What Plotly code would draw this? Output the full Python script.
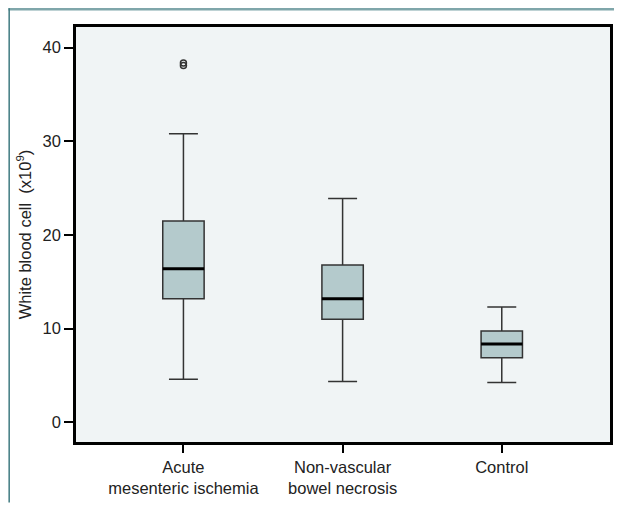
import plotly.graph_objects as go

categories = ["Acute<br>mesenteric ischemia", "Non-vascular<br>bowel necrosis", "Control"]
q1 = [13.2, 11.0, 6.9]
median = [16.4, 13.2, 8.35]
q3 = [21.5, 16.8, 9.75]
lower = [4.6, 4.35, 4.25]
upper = [30.8, 23.9, 12.3]
outlier_cat = [0, 0]
outlier_val = [38.1, 38.35]
yticks = [0, 10, 20, 30, 40]

xpos = list(range(len(categories)))
box_w = 0.26

fig = go.Figure()
fig.add_trace(go.Box(
    x=xpos, q1=q1, median=median, q3=q3, lowerfence=lower, upperfence=upper,
    width=box_w, whiskerwidth=0.7,
    fillcolor="#b4cacc", line=dict(color="#333333", width=1.5),
    boxpoints=False, showlegend=False,
))
# thicker median lines
for i, m in enumerate(median):
    fig.add_trace(go.Scatter(
        x=[xpos[i] - box_w / 2, xpos[i] + box_w / 2], y=[m, m],
        mode="lines", line=dict(color="black", width=3), showlegend=False,
        hoverinfo="skip",
    ))
fig.add_trace(go.Scatter(
    x=outlier_cat, y=outlier_val, mode="markers",
    marker=dict(symbol="circle-open", size=6, color="#333333", line=dict(width=1.5)),
    showlegend=False,
))

# page has an 8px body margin; figure is offset accordingly
L, R, T, B = 68, 9, 19, 61
W, H = 614, 498
pw, ph = W - L - R, H - T - B

def px_x(p):
    return (p - L) / pw

def px_y(p):
    return (H - B - p) / ph

fig.update_layout(
    width=W, height=H,
    margin=dict(l=L, r=R, t=T, b=B),
    paper_bgcolor="white", plot_bgcolor="#f0f4f5",
    font=dict(family="Liberation Sans, Arial, sans-serif", size=16.5, color="#222222"),
    xaxis=dict(
        range=[-0.675, 2.68], tickvals=xpos, ticktext=categories,
        showgrid=False, zeroline=False, ticks="outside", ticklen=8, tickwidth=2,
        tickcolor="black", showline=True, linecolor="black", linewidth=2.5, mirror=True,
        tickfont=dict(size=16.5),
    ),
    yaxis=dict(
        range=[-2.1, 42.2], tickvals=yticks,
        showgrid=False, zeroline=False, ticks="outside", ticklen=9, tickwidth=2,
        tickcolor="black", showline=True, linecolor="black", linewidth=2.5, mirror=True,
        title=dict(text="White blood cell  (x10<sup>9</sup>)", font=dict(size=16.5), standoff=7),
        tickfont=dict(size=16.5),
    ),
    shapes=[
        dict(type="line", xref="paper", yref="paper",
             x0=px_x(0), x1=px_x(W), y0=px_y(1.2), y1=px_y(1.2),
             line=dict(color="#7fa6aa", width=2.5)),
        dict(type="line", xref="paper", yref="paper",
             x0=px_x(0.8), x1=px_x(0.8), y0=px_y(0), y1=px_y(H),
             line=dict(color="#3f7a80", width=1.5)),
    ],
)

fig.write_html("out.html", config={"displayModeBar": False})
